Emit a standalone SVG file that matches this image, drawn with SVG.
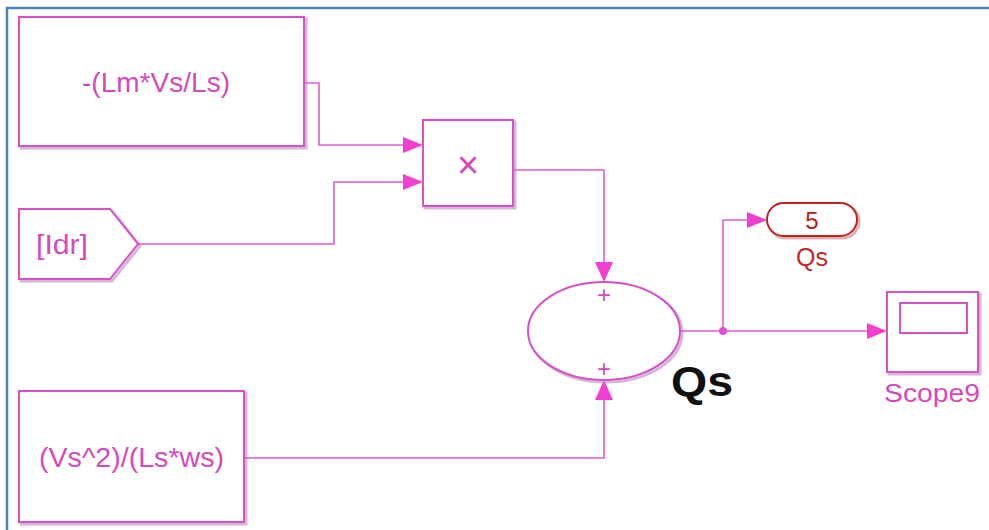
<svg xmlns="http://www.w3.org/2000/svg" width="989" height="530" viewBox="0 0 989 530">
<defs>
<style>
.blk{fill:#fff;stroke:#d650c6;stroke-width:2}
.shd{fill:none;stroke:#b27ab6;stroke-width:3;opacity:0.55}
.txt{font-family:"Liberation Sans",Arial,sans-serif;fill:#d24bbd}
.ln{fill:none;stroke:#e05ed2;stroke-width:1.6}
.ah{fill:#f23fd2}
.red{fill:#fff;stroke:#c02222;stroke-width:2}
</style>
</defs>
<rect x="0" y="0" width="989" height="530" fill="#fff"/>
<rect x="7" y="8" width="1000" height="600" fill="none" stroke="#4f81bd" stroke-width="2.5"/>

<g id="connectors">
<polyline class="ln" points="304,83 319,83 319,145 405,145"/>
<polygon class="ah" points="423,145 403,137 403,153"/>
<polyline class="ln" points="138,244 334,244 334,182 405,182"/>
<polygon class="ah" points="423,182 403,174 403,190"/>
<polyline class="ln" points="513,170 604,170 604,264"/>
<polygon class="ah" points="604,282 595,262 613,262"/>
<polyline class="ln" points="244,458 604,458 604,398"/>
<polygon class="ah" points="604,380 595,400 613,400"/>
<polyline class="ln" points="680,331 870,331"/>
<polygon class="ah" points="887,331 867,323 867,339"/>
<polyline class="ln" points="723,331 723,220 750,220"/>
<polygon class="ah" points="767,220 747,212 747,228"/>
<circle cx="723" cy="331" r="4" fill="#e04fcf"/>
</g>

<g id="const1">
<rect class="shd" x="21" y="19" width="285" height="129"/>
<rect class="blk" x="19" y="17" width="285" height="129"/>
<text class="txt" x="82" y="92" font-size="28" textLength="148" lengthAdjust="spacingAndGlyphs">-(Lm*Vs/Ls)</text>
</g>

<g id="product">
<rect class="shd" x="425" y="122" width="90" height="86"/>
<rect class="blk" x="423" y="120" width="90" height="86"/>
<text class="txt" x="468" y="178" font-size="38" text-anchor="middle">×</text>
</g>

<g id="from_idr">
<path class="shd" d="M21,211 L112,211 L140,246 L112,281 L21,281 Z"/>
<path class="blk" d="M19,209 L110,209 L138,244 L110,279 L19,279 Z"/>
<text class="txt" x="36" y="254" font-size="27" textLength="52" lengthAdjust="spacingAndGlyphs">[Idr]</text>
</g>

<g id="const2">
<rect class="shd" x="21" y="393" width="225" height="131"/>
<rect class="blk" x="19" y="391" width="225" height="131"/>
<text class="txt" x="39" y="467" font-size="28" textLength="185" lengthAdjust="spacingAndGlyphs">(Vs^2)/(Ls*ws)</text>
</g>

<g id="sum">
<ellipse class="shd" cx="606" cy="333" rx="76" ry="49"/>
<ellipse class="blk" cx="604" cy="331" rx="76" ry="49"/>
<text class="txt" x="604" y="303" font-size="24" text-anchor="middle">+</text>
<text class="txt" x="604" y="377" font-size="24" text-anchor="middle">+</text>
<text x="671" y="396" font-family="Liberation Sans,Arial,sans-serif" font-size="42" font-weight="bold" fill="#111" textLength="62" lengthAdjust="spacingAndGlyphs">Qs</text>
</g>

<g id="goto_qs">
<rect x="769" y="205" width="90" height="33" rx="16.5" fill="none" stroke="#b04040" stroke-width="3" opacity="0.4"/>
<rect class="red" x="767" y="203" width="90" height="33" rx="16.5"/>
<text x="812" y="229" font-family="Liberation Sans,Arial,sans-serif" font-size="24" fill="#b82020" text-anchor="middle">5</text>
<text x="812" y="266" font-family="Liberation Sans,Arial,sans-serif" font-size="25" fill="#c02a2a" text-anchor="middle">Qs</text>
</g>

<g id="scope9">
<rect class="shd" x="889" y="294" width="91" height="80"/>
<rect class="blk" x="887" y="292" width="91" height="80"/>
<rect x="900" y="303" width="67" height="30" fill="#fff" stroke="#d650c6" stroke-width="2"/>
<text class="txt" x="884" y="402" font-size="26" textLength="96" lengthAdjust="spacingAndGlyphs">Scope9</text>
</g>
</svg>
